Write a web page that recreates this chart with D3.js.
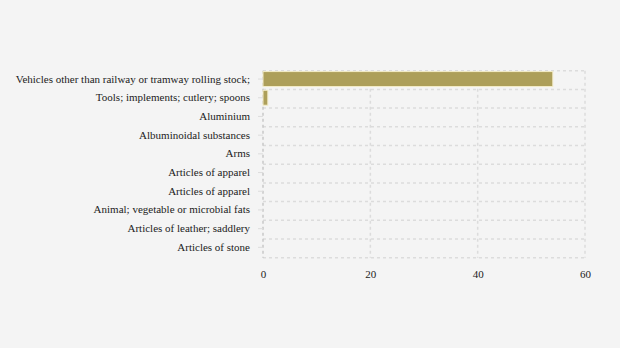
<!DOCTYPE html>
<html>
<head>
<meta charset="utf-8">
<script src="https://cdn.jsdelivr.net/npm/d3@7"></script>
<style>
  html, body { margin: 0; padding: 0; background: #f4f4f4; }
  svg { display: block; }
</style>
</head>
<body>
<svg id="chart" width="620" height="348"></svg>
<script>
// Product categories (top to bottom) and their values
const categories = [
  "Vehicles other than railway or tramway rolling stock;",
  "Tools; implements; cutlery; spoons",
  "Aluminium",
  "Albuminoidal substances",
  "Arms",
  "Articles of apparel",
  "Articles of apparel ",
  "Animal; vegetable or microbial fats",
  "Articles of leather; saddlery",
  "Articles of stone"
];
const values = [54.0, 0.9, 0, 0, 0, 0, 0, 0, 0, 0];
const xTicks = [0, 20, 40, 60];

const FONT = "Liberation Serif";
const svg = d3.select("#chart");
const plotLeft = 263, plotRight = 585, plotTop = 70.7, plotBottom = 257.7;

const x = d3.scaleLinear().domain([0, 60]).range([plotLeft, plotRight]);
const y = d3.scaleBand().domain(categories).range([plotTop, plotBottom])
  .paddingInner(0.2).paddingOuter(0.1);
const step = y.step();

const grid = svg.append("g");
// horizontal grid lines at band boundaries
d3.range(categories.length + 1).forEach(i => {
  grid.append("line")
    .attr("x1", plotLeft).attr("x2", plotRight)
    .attr("y1", plotTop + i * step).attr("y2", plotTop + i * step)
    .attr("stroke", "#dcdcdc").attr("stroke-width", 1.5)
    .attr("stroke-dasharray", "3,3");
});
// vertical grid lines at x ticks
xTicks.forEach(t => {
  grid.append("line")
    .attr("x1", x(t)).attr("x2", x(t))
    .attr("y1", plotTop).attr("y2", plotBottom)
    .attr("stroke", t === 0 ? "#c8c8c8" : "#dcdcdc").attr("stroke-width", 1.5)
    .attr("stroke-dasharray", "3,3");
});

// bars
svg.append("g").selectAll("rect")
  .data(categories.map((c, i) => ({ c, v: values[i] })).filter(d => d.v > 0))
  .join("rect")
  .attr("x", x(0))
  .attr("y", d => y(d.c) - 1)
  .attr("width", d => x(d.v) - x(0))
  .attr("height", y.bandwidth())
  .attr("fill", "#ad9f5a")
  .attr("stroke", "#f3ecc8")
  .attr("stroke-width", 1);

// y axis
const yAxis = svg.append("g")
  .attr("transform", `translate(${plotLeft},0)`)
  .call(d3.axisLeft(y).tickSize(5).tickPadding(8))
  .attr("font-family", FONT).attr("font-size", 11);
yAxis.select(".domain").remove();
yAxis.selectAll(".tick line").attr("stroke", "#dcdcdc");
yAxis.selectAll(".tick").attr("transform", d => `translate(0,${y(d) + y.bandwidth() / 2 - 1})`);
yAxis.selectAll(".tick text").attr("fill", "#222");

// x axis
const xAxis = svg.append("g")
  .attr("transform", `translate(0,${plotBottom})`)
  .call(d3.axisBottom(x).tickValues(xTicks).tickSize(0).tickPadding(13))
  .attr("font-family", FONT).attr("font-size", 11);
xAxis.select(".domain").remove();
xAxis.selectAll(".tick text").attr("fill", "#222");
</script>
</body>
</html>
